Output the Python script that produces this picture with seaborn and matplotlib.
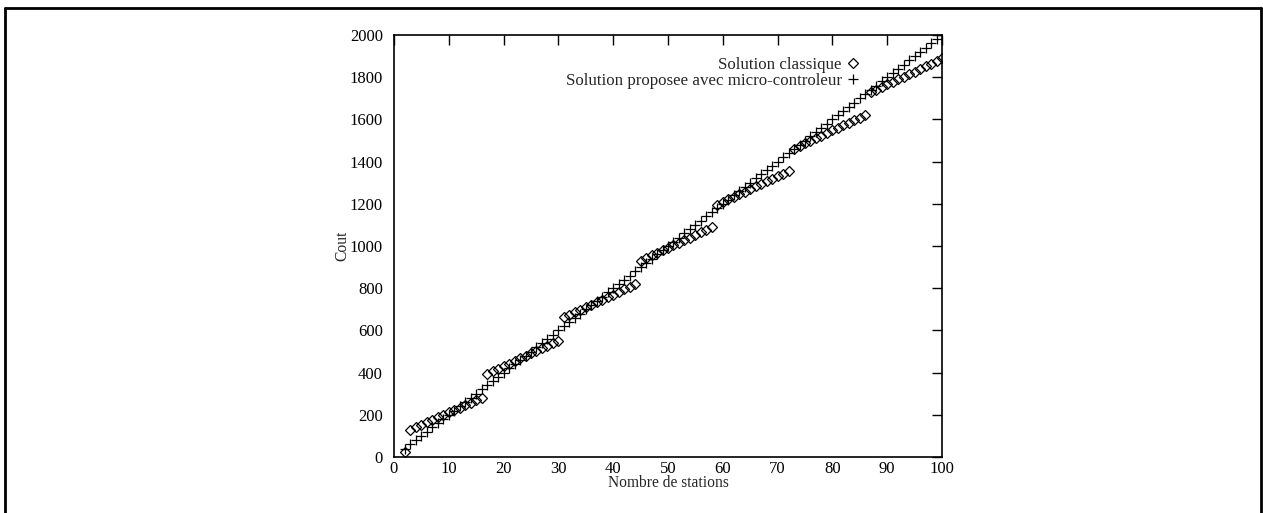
import matplotlib
matplotlib.use("Agg")
import matplotlib.pyplot as plt
import seaborn as sns
import pandas as pd
from matplotlib.lines import Line2D

stations_classique = list(range(2, 101))
cout_classique = [
    25,
    130, 142, 153, 165, 176, 188, 199, 211, 222, 234, 245, 257, 268, 280,
    395, 407, 419, 431, 443, 455, 467, 479, 491, 503, 515, 527, 539, 550,
    662, 674, 686, 698, 710, 722, 734, 746, 758, 770, 782, 794, 806, 818,
    930, 942, 955, 967, 979, 991, 1004, 1016, 1028, 1040, 1053, 1065, 1077, 1089,
    1196, 1208, 1221, 1233, 1245, 1257, 1270, 1282, 1294, 1306, 1319, 1331, 1343, 1355,
    1462, 1474, 1487, 1499, 1511, 1523, 1536, 1548, 1560, 1572, 1585, 1597, 1609, 1621,
    1729, 1741, 1753, 1766, 1778, 1790, 1803, 1815, 1827, 1839, 1852, 1864, 1876, 1889,
]

stations_micro = list(range(2, 101))
cout_micro = [
    40, 60, 80, 100, 120, 140, 160, 180, 200,
    220, 240, 260, 280, 300, 320, 340, 360, 380, 400,
    420, 440, 460, 480, 500, 520, 540, 560, 580, 600,
    620, 640, 660, 680, 700, 720, 740, 760, 780, 800,
    820, 840, 860, 880, 900, 920, 940, 960, 980, 1000,
    1020, 1040, 1060, 1080, 1100, 1120, 1140, 1160, 1180, 1200,
    1220, 1240, 1260, 1280, 1300, 1320, 1340, 1360, 1380, 1400,
    1420, 1440, 1460, 1480, 1500, 1520, 1540, 1560, 1580, 1600,
    1620, 1640, 1660, 1680, 1700, 1720, 1740, 1760, 1780, 1800,
    1820, 1840, 1860, 1880, 1900, 1920, 1940, 1960, 1980, 2000,
]

x_ticks = list(range(0, 101, 10))
y_ticks = list(range(0, 2001, 200))

label_classique = "Solution classique"
label_micro = "Solution proposee avec micro-controleur"

sns.set_theme(style="white")
plt.rcParams["font.family"] = ["Liberation Serif", "DejaVu Serif"]

FS = 12

fig = plt.figure(figsize=(12.63, 5.13), dpi=100)
ax = fig.add_axes([394 / 1263, 1 - 457 / 513, (942 - 394) / 1263, (457 - 35) / 513])

df_c = pd.DataFrame({"x": stations_classique, "y": cout_classique})
df_m = pd.DataFrame({"x": stations_micro, "y": cout_micro})

sns.lineplot(data=df_c, x="x", y="y", ax=ax, marker="D", markersize=5.2,
             markerfacecolor="none", markeredgecolor="black", mew=0.9,
             linestyle="", color="black", zorder=3, legend=False)
sns.lineplot(data=df_m, x="x", y="y", ax=ax, marker="+", markersize=7,
             markeredgecolor="black", mew=0.9, linestyle="", color="black",
             zorder=3, legend=False)

ax.set_xlim(0, 100)
ax.set_ylim(0, 2000)
ax.set_xticks(x_ticks)
ax.set_yticks(y_ticks)
ax.tick_params(direction="in", length=7, width=1.0, top=True, right=True,
               labelsize=FS, colors="black")
ax.tick_params(axis="y", pad=8)
ax.tick_params(axis="x", pad=3)
for sp in ax.spines.values():
    sp.set_color("black")
    sp.set_linewidth(1.2)
ax.set_xlabel("Nombre de stations", fontsize=11.2, labelpad=-1.5)
ax.set_ylabel("Cout", fontsize=11.2, labelpad=-0.5)

handles = [
    Line2D([], [], marker="D", markersize=5.2, markerfacecolor="none",
           markeredgecolor="black", mew=0.9, linestyle=""),
    Line2D([], [], marker="+", markersize=7, markeredgecolor="black",
           mew=0.9, linestyle=""),
]
leg = ax.legend(handles, [label_classique, label_micro], loc="upper right",
                bbox_to_anchor=((861 - 394) / 548, (457 - 57) / 422),
                frameon=False, markerfirst=False, fontsize=12.2,
                handletextpad=0.15, borderpad=0, borderaxespad=0,
                labelspacing=0.0, handlelength=1.0)

# figure outer frame
lw = 2
fig.add_artist(Line2D([5 / 1263, 5 / 1263], [0, 1 - 8 / 513], color="black", lw=lw, transform=fig.transFigure))
fig.add_artist(Line2D([5 / 1263, 1261 / 1263], [1 - 8 / 513, 1 - 8 / 513], color="black", lw=lw, transform=fig.transFigure))
fig.add_artist(Line2D([1261 / 1263, 1261 / 1263], [0, 1 - 8 / 513], color="black", lw=lw, transform=fig.transFigure))

fig.savefig("out.png", dpi=100)
